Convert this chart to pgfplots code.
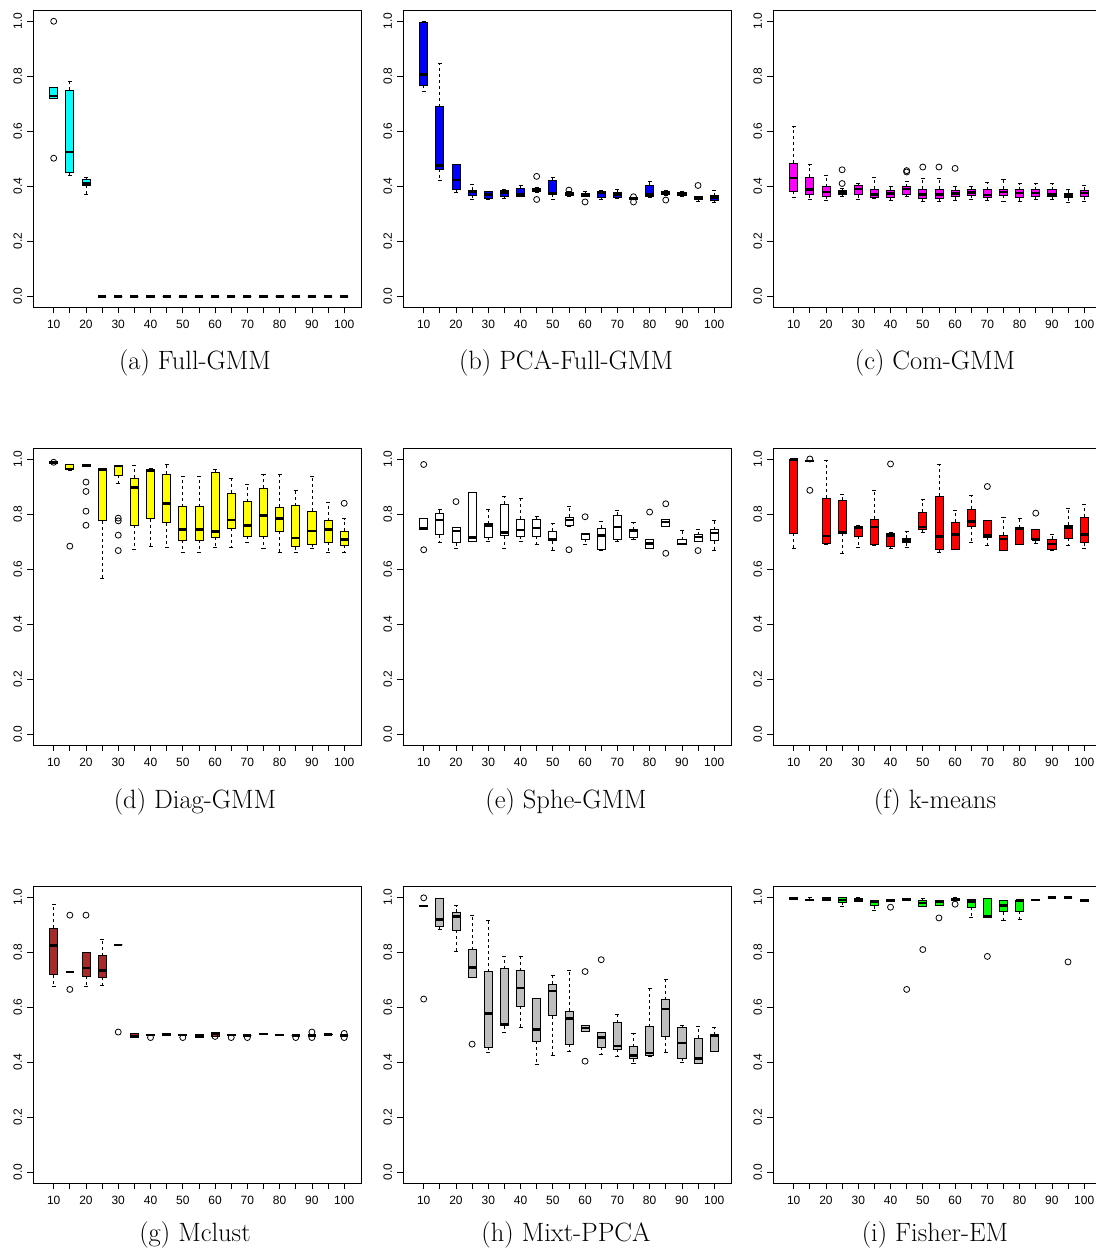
\documentclass[border=0pt]{standalone}
\usepackage{fontspec}
\usepackage{pgfplots}
\pgfplotsset{compat=1.18}
\usepgfplotslibrary{statistics}
\newfontfamily\arialf{Liberation Sans}
\newcommand{\tickfont}{\arialf\fontsize{12}{12}\selectfont}
\definecolor{rcyan}{HTML}{00FFFF}
\definecolor{rblue}{HTML}{0000FF}
\definecolor{rmagenta}{HTML}{FF00FF}
\definecolor{ryellow}{HTML}{FFFF00}
\definecolor{rwhite}{HTML}{FFFFFF}
\definecolor{rred}{HTML}{FF0000}
\definecolor{rbrown}{HTML}{A52A2A}
\definecolor{rgray}{HTML}{BEBEBE}
\definecolor{rgreen}{HTML}{00FF00}
\colorlet{bxcol}{rcyan}
\pgfplotsset{
 boxplot/draw/box/.code={\filldraw[fill=bxcol, draw=black, line width=0.8pt] (boxplot box cs:\pgfplotsboxplotvalue{lower quartile},0) rectangle (boxplot box cs:\pgfplotsboxplotvalue{upper quartile},1);},
 boxplot/draw/median/.code={\draw[black, line width=2.5pt] (boxplot box cs:\pgfplotsboxplotvalue{median},0) -- (boxplot box cs:\pgfplotsboxplotvalue{median},1);},
 boxplot/draw/lower whisker/.code={\draw[black, line width=0.8pt, dash pattern=on 3pt off 3pt] (boxplot box cs:\pgfplotsboxplotvalue{lower quartile},0.5) -- (boxplot box cs:\pgfplotsboxplotvalue{lower whisker},0.5); \draw[black, line width=0.8pt] (boxplot whisker cs:\pgfplotsboxplotvalue{lower whisker},0) -- (boxplot whisker cs:\pgfplotsboxplotvalue{lower whisker},1);},
 boxplot/draw/upper whisker/.code={\draw[black, line width=0.8pt, dash pattern=on 3pt off 3pt] (boxplot box cs:\pgfplotsboxplotvalue{upper quartile},0.5) -- (boxplot box cs:\pgfplotsboxplotvalue{upper whisker},0.5); \draw[black, line width=0.8pt] (boxplot whisker cs:\pgfplotsboxplotvalue{upper whisker},0) -- (boxplot whisker cs:\pgfplotsboxplotvalue{upper whisker},1);},
 rstyle/.style={
  scale only axis, width=328.3pt, height=297pt,
  anchor=south west,
  xmin=-0.264, xmax=20.08, ymin=-0.04, ymax=1.04,
  xtick={1,2,...,19}, xticklabels={10,,20,,30,,40,,50,,60,,70,,80,,90,,100},
  ytick={0,0.2,0.4,0.6,0.8,1}, yticklabels={0.0,0.2,0.4,0.6,0.8,1.0},
  tick align=outside, xtick pos=bottom, ytick pos=left, major tick length=6pt,
  every tick/.style={black, line width=0.8pt},
  axis line style={black, line width=0.8pt},
  ticklabel style={font=\tickfont, inner sep=0pt},
  xticklabel style={anchor=north},
  yticklabel style={rotate=90, anchor=south},
  xticklabel shift=7pt, yticklabel shift=5pt,
  boxplot/draw direction=y,
  boxplot/box extend=0.5,
  boxplot/whisker extend=0.25,
  clip=false,
 },
 outl/.style={only marks, mark=o, mark size=3pt, black, line width=0.8pt, mark options={solid}},
}
\newcommand{\bx}[6]{\addplot[black, boxplot prepared={draw direction=y, draw position=#1, lower whisker=#2, lower quartile=#3, median=#4, upper quartile=#5, upper whisker=#6}] coordinates {};}
\newcommand{\capt}[2]{\node[anchor=base, font=\fontsize{26.5}{30}\selectfont] at (#1) {#2};}
\begin{document}
\begin{tikzpicture}
\path[use as bounding box] (0,0) rectangle (1095pt,1257pt);
% (a)
\colorlet{bxcol}{rcyan}
\begin{axis}[rstyle, at={(33.3pt,949.7pt)}]
\bx{1}{0.718}{0.718}{0.729}{0.760}{0.760}
\bx{2}{0.440}{0.449}{0.525}{0.750}{0.780}
\bx{3}{0.370}{0.403}{0.411}{0.425}{0.431}
\bx{4}{0}{0}{0}{0}{0}
\bx{5}{0}{0}{0}{0}{0}
\bx{6}{0}{0}{0}{0}{0}
\bx{7}{0}{0}{0}{0}{0}
\bx{8}{0}{0}{0}{0}{0}
\bx{9}{0}{0}{0}{0}{0}
\bx{10}{0}{0}{0}{0}{0}
\bx{11}{0}{0}{0}{0}{0}
\bx{12}{0}{0}{0}{0}{0}
\bx{13}{0}{0}{0}{0}{0}
\bx{14}{0}{0}{0}{0}{0}
\bx{15}{0}{0}{0}{0}{0}
\bx{16}{0}{0}{0}{0}{0}
\bx{17}{0}{0}{0}{0}{0}
\bx{18}{0}{0}{0}{0}{0}
\bx{19}{0}{0}{0}{0}{0}
\addplot[outl] coordinates {(1,1.0) (1,0.502)};
\end{axis}
% (b)
\colorlet{bxcol}{rblue}
\begin{axis}[rstyle, at={(403.3pt,949.7pt)}]
\bx{1}{0.746}{0.768}{0.806}{0.995}{0.999}
\bx{2}{0.422}{0.462}{0.475}{0.689}{0.847}
\bx{3}{0.376}{0.390}{0.422}{0.479}{0.479}
\bx{4}{0.353}{0.368}{0.380}{0.386}{0.407}
\bx{5}{0.352}{0.356}{0.370}{0.380}{0.383}
\bx{6}{0.356}{0.364}{0.377}{0.384}{0.388}
\bx{7}{0.362}{0.364}{0.370}{0.392}{0.403}
\bx{8}{0.378}{0.380}{0.386}{0.392}{0.395}
\bx{9}{0.352}{0.371}{0.374}{0.422}{0.431}
\bx{10}{0.362}{0.368}{0.374}{0.379}{0.380}
\bx{11}{0.365}{0.365}{0.370}{0.374}{0.380}
\bx{12}{0.354}{0.359}{0.377}{0.381}{0.386}
\bx{13}{0.357}{0.359}{0.370}{0.378}{0.388}
\bx{14}{0.352}{0.352}{0.357}{0.360}{0.360}
\bx{15}{0.360}{0.362}{0.371}{0.404}{0.419}
\bx{16}{0.368}{0.371}{0.376}{0.381}{0.386}
\bx{17}{0.363}{0.366}{0.371}{0.376}{0.380}
\bx{18}{0.345}{0.354}{0.360}{0.364}{0.364}
\bx{19}{0.342}{0.347}{0.359}{0.366}{0.385}
\addplot[outl] coordinates {(8,0.436) (8,0.352) (10,0.386) (11,0.343) (14,0.362) (14,0.343) (16,0.350) (18,0.403)};
\end{axis}
% (c)
\colorlet{bxcol}{rmagenta}
\begin{axis}[rstyle, at={(773.3pt,949.7pt)}]
\bx{1}{0.359}{0.383}{0.431}{0.485}{0.617}
\bx{2}{0.354}{0.369}{0.388}{0.432}{0.479}
\bx{3}{0.350}{0.364}{0.380}{0.398}{0.440}
\bx{4}{0.363}{0.369}{0.377}{0.385}{0.392}
\bx{5}{0.353}{0.369}{0.390}{0.403}{0.411}
\bx{6}{0.357}{0.359}{0.370}{0.390}{0.434}
\bx{7}{0.350}{0.358}{0.374}{0.386}{0.398}
\bx{8}{0.362}{0.370}{0.390}{0.398}{0.416}
\bx{9}{0.345}{0.357}{0.370}{0.390}{0.428}
\bx{10}{0.345}{0.357}{0.370}{0.390}{0.428}
\bx{11}{0.350}{0.362}{0.373}{0.385}{0.398}
\bx{12}{0.354}{0.367}{0.377}{0.387}{0.398}
\bx{13}{0.350}{0.358}{0.369}{0.387}{0.415}
\bx{14}{0.345}{0.367}{0.379}{0.390}{0.425}
\bx{15}{0.345}{0.358}{0.375}{0.387}{0.409}
\bx{16}{0.354}{0.362}{0.375}{0.387}{0.409}
\bx{17}{0.354}{0.362}{0.370}{0.387}{0.409}
\bx{18}{0.341}{0.358}{0.367}{0.374}{0.390}
\bx{19}{0.345}{0.362}{0.376}{0.385}{0.403}
\addplot[outl] coordinates {(4,0.460) (4,0.410) (8,0.452) (8,0.457) (9,0.470) (10,0.470) (11,0.465)};
\end{axis}
% (d)
\colorlet{bxcol}{ryellow}
\begin{axis}[rstyle, at={(33.3pt,512pt)}]
\bx{1}{0.983}{0.983}{0.986}{0.990}{0.990}
\bx{2}{0.960}{0.961}{0.964}{0.981}{0.982}
\bx{3}{0.973}{0.973}{0.977}{0.981}{0.981}
\bx{4}{0.564}{0.775}{0.961}{0.964}{0.967}
\bx{5}{0.912}{0.941}{0.975}{0.977}{0.978}
\bx{6}{0.673}{0.759}{0.897}{0.931}{0.978}
\bx{7}{0.682}{0.783}{0.959}{0.961}{0.967}
\bx{8}{0.680}{0.768}{0.838}{0.945}{0.979}
\bx{9}{0.661}{0.704}{0.743}{0.827}{0.935}
\bx{10}{0.661}{0.704}{0.743}{0.827}{0.935}
\bx{11}{0.680}{0.715}{0.737}{0.952}{0.962}
\bx{12}{0.680}{0.749}{0.778}{0.876}{0.928}
\bx{13}{0.695}{0.719}{0.758}{0.845}{0.909}
\bx{14}{0.674}{0.720}{0.795}{0.893}{0.945}
\bx{15}{0.662}{0.738}{0.783}{0.824}{0.943}
\bx{16}{0.662}{0.681}{0.713}{0.830}{0.886}
\bx{17}{0.674}{0.690}{0.738}{0.811}{0.935}
\bx{18}{0.662}{0.698}{0.743}{0.776}{0.842}
\bx{19}{0.659}{0.687}{0.708}{0.738}{0.783}
\addplot[outl] coordinates {(1,0.988) (2,0.683) (3,0.916) (3,0.882) (3,0.810) (3,0.759) (5,0.785) (5,0.775) (5,0.723) (5,0.667) (19,0.839)};
\end{axis}
% (e)
\colorlet{bxcol}{rwhite}
\begin{axis}[rstyle, at={(403.3pt,512pt)}]
\bx{1}{0.745}{0.745}{0.748}{0.784}{0.784}
\bx{2}{0.695}{0.725}{0.778}{0.802}{0.815}
\bx{3}{0.676}{0.695}{0.738}{0.753}{0.753}
\bx{4}{0.700}{0.700}{0.715}{0.880}{0.880}
\bx{5}{0.700}{0.716}{0.758}{0.764}{0.815}
\bx{6}{0.675}{0.721}{0.733}{0.836}{0.864}
\bx{7}{0.700}{0.719}{0.741}{0.782}{0.855}
\bx{8}{0.690}{0.719}{0.749}{0.782}{0.793}
\bx{9}{0.667}{0.703}{0.707}{0.737}{0.764}
\bx{10}{0.755}{0.757}{0.779}{0.789}{0.828}
\bx{11}{0.688}{0.709}{0.727}{0.731}{0.731}
\bx{12}{0.667}{0.673}{0.722}{0.749}{0.773}
\bx{13}{0.700}{0.707}{0.753}{0.796}{0.813}
\bx{14}{0.707}{0.715}{0.739}{0.743}{0.770}
\bx{15}{0.676}{0.676}{0.692}{0.707}{0.707}
\bx{16}{0.755}{0.755}{0.770}{0.779}{0.779}
\bx{17}{0.688}{0.688}{0.691}{0.707}{0.741}
\bx{18}{0.702}{0.702}{0.716}{0.724}{0.743}
\bx{19}{0.668}{0.703}{0.731}{0.743}{0.778}
\addplot[outl] coordinates {(1,0.980) (1,0.670) (3,0.845) (10,0.670) (11,0.790) (15,0.807) (16,0.837) (16,0.657) (18,0.667)};
\end{axis}
% (f)
\colorlet{bxcol}{rred}
\begin{axis}[rstyle, at={(773.3pt,512pt)}]
\bx{1}{0.676}{0.731}{0.998}{1.000}{1.000}
\bx{2}{0.990}{0.990}{0.993}{0.996}{0.996}
\bx{3}{0.690}{0.692}{0.720}{0.858}{0.995}
\bx{4}{0.658}{0.730}{0.733}{0.851}{0.873}
\bx{5}{0.679}{0.719}{0.749}{0.756}{0.758}
\bx{6}{0.686}{0.688}{0.752}{0.782}{0.886}
\bx{7}{0.674}{0.682}{0.722}{0.730}{0.732}
\bx{8}{0.680}{0.695}{0.704}{0.712}{0.736}
\bx{9}{0.733}{0.743}{0.752}{0.806}{0.852}
\bx{10}{0.662}{0.670}{0.719}{0.864}{0.979}
\bx{11}{0.670}{0.670}{0.726}{0.770}{0.812}
\bx{12}{0.697}{0.755}{0.773}{0.818}{0.868}
\bx{13}{0.685}{0.716}{0.722}{0.776}{0.778}
\bx{14}{0.667}{0.667}{0.709}{0.722}{0.788}
\bx{15}{0.689}{0.691}{0.748}{0.750}{0.784}
\bx{16}{0.692}{0.707}{0.708}{0.743}{0.743}
\bx{17}{0.667}{0.673}{0.691}{0.709}{0.727}
\bx{18}{0.687}{0.712}{0.750}{0.760}{0.822}
\bx{19}{0.675}{0.695}{0.726}{0.789}{0.836}
\addplot[outl] coordinates {(2,1.000) (2,0.886) (7,0.982) (13,0.900) (16,0.803)};
\end{axis}
% (g)
\colorlet{bxcol}{rbrown}
\begin{axis}[rstyle, at={(33.3pt,73.7pt)}]
\bx{1}{0.675}{0.718}{0.824}{0.888}{0.973}
\bx{2}{0.728}{0.728}{0.728}{0.728}{0.728}
\bx{3}{0.675}{0.712}{0.743}{0.800}{0.800}
\bx{4}{0.680}{0.709}{0.733}{0.788}{0.848}
\bx{5}{0.827}{0.827}{0.827}{0.827}{0.827}
\bx{6}{0.490}{0.490}{0.496}{0.505}{0.505}
\bx{7}{0.497}{0.497}{0.500}{0.503}{0.503}
\bx{8}{0.498}{0.498}{0.501}{0.504}{0.504}
\bx{9}{0.497}{0.497}{0.500}{0.503}{0.503}
\bx{10}{0.490}{0.490}{0.495}{0.500}{0.500}
\bx{11}{0.495}{0.495}{0.503}{0.508}{0.508}
\bx{12}{0.497}{0.497}{0.500}{0.503}{0.503}
\bx{13}{0.497}{0.497}{0.497}{0.497}{0.497}
\bx{14}{0.500}{0.500}{0.502}{0.504}{0.504}
\bx{15}{0.499}{0.499}{0.500}{0.502}{0.502}
\bx{16}{0.498}{0.498}{0.498}{0.498}{0.498}
\bx{17}{0.498}{0.498}{0.498}{0.498}{0.498}
\bx{18}{0.500}{0.500}{0.501}{0.503}{0.505}
\bx{19}{0.498}{0.498}{0.498}{0.498}{0.498}
\addplot[outl] coordinates {(2,0.935) (2,0.665) (3,0.935) (5,0.510) (7,0.490) (9,0.490) (11,0.494) (12,0.490) (13,0.490) (16,0.490) (17,0.510) (17,0.490) (19,0.505) (19,0.490)};
\end{axis}
% (h)
\colorlet{bxcol}{rgray}
\begin{axis}[rstyle, at={(403.3pt,73.7pt)}]
\bx{1}{0.966}{0.966}{0.969}{0.972}{0.972}
\bx{2}{0.883}{0.895}{0.920}{0.995}{0.995}
\bx{3}{0.803}{0.880}{0.930}{0.945}{0.970}
\bx{4}{0.708}{0.708}{0.745}{0.810}{0.935}
\bx{5}{0.437}{0.455}{0.577}{0.730}{0.916}
\bx{6}{0.508}{0.533}{0.538}{0.740}{0.786}
\bx{7}{0.527}{0.603}{0.670}{0.733}{0.786}
\bx{8}{0.392}{0.476}{0.520}{0.632}{0.632}
\bx{9}{0.424}{0.570}{0.660}{0.683}{0.716}
\bx{10}{0.441}{0.466}{0.560}{0.585}{0.733}
\bx{11}{0.512}{0.512}{0.525}{0.535}{0.535}
\bx{12}{0.430}{0.454}{0.490}{0.510}{0.510}
\bx{13}{0.422}{0.447}{0.460}{0.544}{0.575}
\bx{14}{0.395}{0.413}{0.425}{0.457}{0.505}
\bx{15}{0.420}{0.424}{0.433}{0.530}{0.668}
\bx{16}{0.435}{0.493}{0.593}{0.627}{0.700}
\bx{17}{0.400}{0.415}{0.470}{0.527}{0.533}
\bx{18}{0.397}{0.397}{0.413}{0.487}{0.530}
\bx{19}{0.440}{0.440}{0.495}{0.500}{0.527}
\addplot[outl] coordinates {(1,0.998) (1,0.630) (4,0.466) (11,0.730) (11,0.404) (12,0.773)};
\end{axis}
% (i)
\colorlet{bxcol}{rgreen}
\begin{axis}[rstyle, at={(773.3pt,73.7pt)}]
\bx{1}{0.992}{0.992}{0.995}{0.998}{0.998}
\bx{2}{0.988}{0.988}{0.990}{0.993}{0.998}
\bx{3}{0.988}{0.988}{0.994}{0.998}{0.998}
\bx{4}{0.966}{0.983}{0.990}{0.998}{0.998}
\bx{5}{0.985}{0.985}{0.990}{0.995}{0.998}
\bx{6}{0.952}{0.970}{0.985}{0.990}{0.990}
\bx{7}{0.985}{0.985}{0.990}{0.993}{0.993}
\bx{8}{0.990}{0.990}{0.993}{0.996}{0.996}
\bx{9}{0.968}{0.968}{0.980}{0.990}{0.995}
\bx{10}{0.970}{0.970}{0.982}{0.988}{0.988}
\bx{11}{0.988}{0.988}{0.992}{0.995}{0.999}
\bx{12}{0.927}{0.965}{0.985}{0.993}{0.993}
\bx{13}{0.928}{0.928}{0.930}{0.996}{0.996}
\bx{14}{0.917}{0.948}{0.970}{0.990}{0.990}
\bx{15}{0.920}{0.950}{0.988}{0.990}{0.990}
\bx{16}{0.988}{0.988}{0.990}{0.993}{0.993}
\bx{17}{1.000}{1.000}{1.000}{1.000}{1.000}
\bx{18}{1.000}{1.000}{1.000}{1.000}{1.000}
\bx{19}{0.985}{0.985}{0.990}{0.993}{0.993}
\addplot[outl] coordinates {(7,0.964) (8,0.665) (9,0.810) (10,0.925) (11,0.975) (13,0.785) (18,0.765)};
\end{axis}
\capt{195pt,887.7pt}{(a) Full-GMM}
\capt{566pt,887.7pt}{(b) PCA-Full-GMM}
\capt{935pt,887.7pt}{(c) Com-GMM}
\capt{195pt,448.7pt}{(d) Diag-GMM}
\capt{566pt,448.7pt}{(e) Sphe-GMM}
\capt{935pt,448.7pt}{(f) k-means}
\capt{195pt,15.3pt}{(g) Mclust}
\capt{566pt,15.3pt}{(h) Mixt-PPCA}
\capt{935pt,15.3pt}{(i) Fisher-EM}
\end{tikzpicture}
\end{document}
